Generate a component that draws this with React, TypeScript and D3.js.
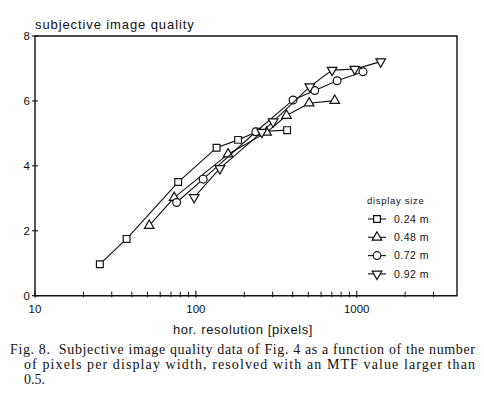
import React from 'react';
import * as d3 from 'd3';

// pixels per display width vs subjective quality, one pair of arrays per display size
const sizeLabels = ['0.24 m', '0.48 m', '0.72 m', '0.92 m'];

const px024 = [25.3, 37.1, 77.6, 134.5, 183, 240, 369];
const q024 = [0.97, 1.75, 3.5, 4.56, 4.8, 5.05, 5.1];

const px048 = [51.3, 73.3, 158.6, 275, 366, 506, 730];
const q048 = [2.16, 3.02, 4.36, 5.03, 5.55, 5.93, 6.01];

const px072 = [75.9, 111, 236, 402, 548, 755, 1094];
const q072 = [2.87, 3.59, 5.05, 6.03, 6.32, 6.62, 6.9];

const px092 = [97.6, 141, 257, 302, 511, 703, 972, 1409];
const q092 = [3.03, 3.92, 5.04, 5.36, 6.44, 6.95, 6.98, 7.21];

const xTickLabels = [10, 100, 1000];
const xMinorTicks = [20, 30, 40, 50, 60, 70, 80, 90, 200, 300, 400, 500, 600, 700, 800, 900, 2000, 3000];
const yTicks = [0, 2, 4, 6, 8];

const captionLines = [
  'Fig. 8.\u00a0\u00a0Subjective image quality data of Fig. 4 as a function of the number',
  'of pixels per display width, resolved with an MTF value larger than',
  '0.5.',
];

const series = [
  { label: sizeLabels[0], xs: px024, ys: q024, shape: d3.symbolSquare, size: 46, rot: 0 },
  { label: sizeLabels[1], xs: px048, ys: q048, shape: d3.symbolTriangle, size: 40, rot: 0 },
  { label: sizeLabels[2], xs: px072, ys: q072, shape: d3.symbolCircle, size: 48, rot: 0 },
  { label: sizeLabels[3], xs: px092, ys: q092, shape: d3.symbolTriangle, size: 40, rot: 180 },
];

const W = 484;
const H = 405;
const left = 35, right = 457, top = 36, bottom = 295.7;

const sans = '"Liberation Sans", Arial, sans-serif';
const serif = '"Liberation Serif", "Times New Roman", serif';

const App: React.FC = () => {
  const x = d3.scaleLog().domain([10, 4200]).range([left, right]);
  const y = d3.scaleLinear().domain([0, 8]).range([bottom, top]);

  const line = d3.line<[number, number]>()
    .x(d => x(d[0]))
    .y(d => y(d[1]));

  return (
    <div style={{ position: 'absolute', left: 0, top: 0 }}>
      <svg width={W} height={H} viewBox={`0 0 ${W} ${H}`} style={{ display: 'block', background: '#fff' }}>
        {/* frame */}
        <path
          d={`M${left},${top}H${right}V${bottom}H${left}Z`}
          fill="none"
          stroke="#111"
          strokeWidth={1.4}
        />

        {/* y ticks */}
        {yTicks.map(t => (
          <g key={`y${t}`}>
            <line x1={left - 3} x2={left + 3} y1={y(t)} y2={y(t)} stroke="#111" strokeWidth={1.1} />
            <text x={30} y={y(t) + 4} textAnchor="end" fontFamily={sans} fontSize={11.5} fill="#111">
              {t}
            </text>
          </g>
        ))}

        {/* x ticks */}
        {xTickLabels.map(t => (
          <g key={`x${t}`}>
            <line x1={x(t)} x2={x(t)} y1={bottom - 5} y2={bottom + 2} stroke="#111" strokeWidth={1.1} />
            <text x={x(t)} y={bottom + 17.5} textAnchor="middle" fontFamily={sans} fontSize={11.5} fill="#111">
              {t}
            </text>
          </g>
        ))}
        {xMinorTicks.map(t => (
          <line key={`m${t}`} x1={x(t)} x2={x(t)} y1={bottom - 4} y2={bottom + 1.5} stroke="#111" strokeWidth={1} />
        ))}

        {/* axis titles */}
        <text x={left} y={29} fontFamily={sans} fontSize={13} letterSpacing={0.9} fill="#111">
          subjective image quality
        </text>
        <text x={243} y={334} textAnchor="middle" fontFamily={sans} fontSize={13} letterSpacing={0.6} fill="#111">
          hor. resolution [pixels]
        </text>

        {/* series */}
        {series.map(s => {
          const pts = s.xs.map((v, i) => [v, s.ys[i]] as [number, number]);
          const sym = d3.symbol().type(s.shape).size(s.size)();
          return (
            <g key={s.label}>
              <path d={line(pts) || ''} fill="none" stroke="#111" strokeWidth={1.1} />
              {pts.map((p, i) => (
                <path
                  key={i}
                  d={sym || ''}
                  transform={`translate(${x(p[0])},${y(p[1])}) rotate(${s.rot})`}
                  fill="#fff"
                  stroke="#111"
                  strokeWidth={1.2}
                />
              ))}
            </g>
          );
        })}

        {/* legend */}
        <text x={367} y={204} fontFamily={sans} fontSize={9.5} letterSpacing={0.7} fill="#111">
          display size
        </text>
        {series.map((s, i) => {
          const cy = 219 + i * 18.3;
          const sym = d3.symbol().type(s.shape).size(s.size)();
          return (
            <g key={`lg${s.label}`}>
              <line x1={368} x2={386} y1={cy} y2={cy} stroke="#111" strokeWidth={1.1} />
              <path
                d={sym || ''}
                transform={`translate(377,${cy}) rotate(${s.rot})`}
                fill="#fff"
                stroke="#111"
                strokeWidth={1.2}
              />
              <text x={394} y={cy + 3.8} fontFamily={sans} fontSize={10.5} letterSpacing={0.5} fill="#111">
                {s.label}
              </text>
            </g>
          );
        })}

        {/* caption */}
        <text x={10} y={354} fontFamily={serif} fontSize={14} fill="#111" textLength={465} lengthAdjust="spacing">
          {captionLines[0]}
        </text>
        <text x={24} y={369} fontFamily={serif} fontSize={14} fill="#111" textLength={451} lengthAdjust="spacing">
          {captionLines[1]}
        </text>
        <text x={24} y={384} fontFamily={serif} fontSize={14} fill="#111">
          {captionLines[2]}
        </text>
      </svg>
    </div>
  );
};

export default App;
